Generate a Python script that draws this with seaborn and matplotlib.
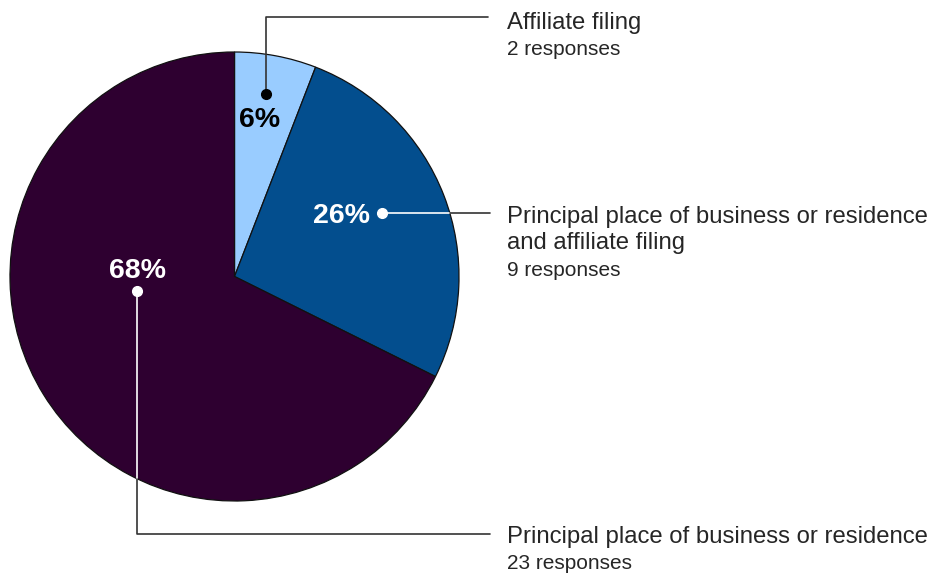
import seaborn as sns
import matplotlib.pyplot as plt

# data
categorias = ['Affiliate filing',
              'Principal place of business or residence\nand affiliate filing',
              'Principal place of business or residence']
respostas = [2, 9, 23]
cores = ['#99CCFF', '#034E8E', '#2E0030']

sns.set_theme(style="white")
plt.rcParams['font.family'] = ['Liberation Sans', 'DejaVu Sans']

W, H = 946, 575
fig = plt.figure(figsize=(W / 100, H / 100), dpi=100)
ax = fig.add_axes([0, 0, 1, 1])

def py(y):
    # linha de pixel -> y dos dados
    return H - y

cx, cy, R = 234.5, py(276.5), 224.5
ax.pie(respostas, colors=sns.color_palette(cores), startangle=90, counterclock=False,
       center=(cx, cy), radius=R,
       wedgeprops={'edgecolor': '#111111', 'linewidth': 0.9})
ax.set_xlim(0, W)
ax.set_ylim(0, H)
ax.set_aspect('equal')
ax.axis('off')

total = sum(respostas)
pcts = [f"{v / total * 100:.0f}%" for v in respostas]

# rotulos de percentagem
kw = dict(fontsize=20.5, fontweight='bold', ha='center', va='baseline')
ax.text(260, py(127), pcts[0], color='black', **kw)
ax.text(341, py(222.7), pcts[1], color='white', **kw)
ax.text(137, py(278.3), pcts[2], color='white', **kw)

escuro = '#333333'
# linhas de chamada
ax.plot([266, 266, 488], [py(94), py(17), py(17)], color=escuro, lw=1.2)
ax.plot(266, py(94), 'o', color='black', ms=7)

ax.plot([382, 450], [py(213), py(213)], color='white', lw=1.2)
ax.plot([450, 490], [py(213), py(213)], color=escuro, lw=1.2)
ax.plot(382, py(213), 'o', color='white', ms=7)

ax.plot([137, 137], [py(291), py(479)], color='white', lw=1.2)
ax.plot([137, 137, 490], [py(479), py(534), py(534)], color=escuro, lw=1.2)
ax.plot(137, py(291), 'o', color='white', ms=7)

# textos a direita
tcor = '#262626'
fs_cat, fs_resp = 17.2, 15
ax.text(507, py(29.3), categorias[0], fontsize=fs_cat, color=tcor, va='baseline')
ax.text(507, py(55), f"{respostas[0]} responses", fontsize=fs_resp, color=tcor, va='baseline')

linhas = categorias[1].split('\n')
ax.text(507, py(223.3), linhas[0], fontsize=fs_cat, color=tcor, va='baseline')
ax.text(507, py(249.3), linhas[1], fontsize=fs_cat, color=tcor, va='baseline')
ax.text(507, py(276), f"{respostas[1]} responses", fontsize=fs_resp, color=tcor, va='baseline')

ax.text(507, py(543.3), categorias[2], fontsize=fs_cat, color=tcor, va='baseline')
ax.text(507, py(569.3), f"{respostas[2]} responses", fontsize=fs_resp, color=tcor, va='baseline')

fig.savefig('out.png', dpi=100)
